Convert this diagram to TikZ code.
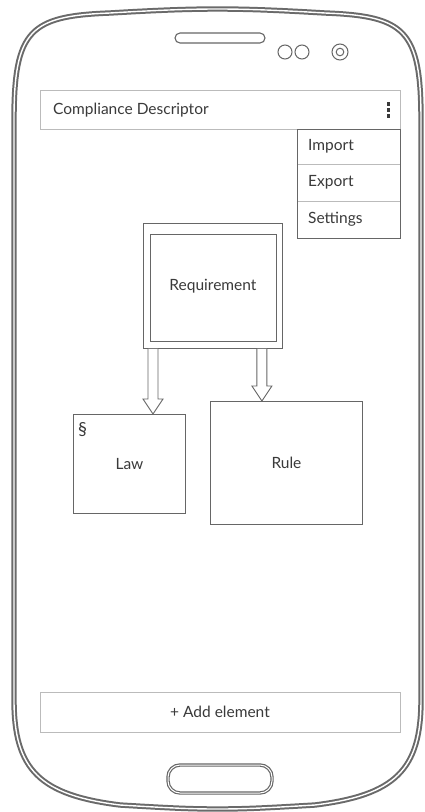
\documentclass[tikz,border=0pt]{standalone}
\usepackage{fontspec}
\setmainfont{Lato}
\usetikzlibrary{calc}
\definecolor{ink}{HTML}{3A3A3A}
\definecolor{frame}{HTML}{6A6A6A}
\definecolor{barline}{HTML}{BBBBBB}
\definecolor{boxline}{HTML}{666666}
\tikzset{
  shell/.style={draw=frame, line width=2pt, double=white, double distance=1.4pt},
  bar/.style={draw=barline, line width=0.8pt},
  box/.style={draw=boxline, line width=0.9pt},
  label/.style={text=ink, font=\fontsize{15.5}{17}\selectfont, inner sep=0pt},
  hollow/.style={draw=boxline, line width=0.9pt, fill=white, line join=miter},
}
% hollow block arrow from #1 (start of shaft) down to #2 (tip)
\newcommand\blockarrow[2]{%
  \draw[hollow] let \p1=#1, \p2=#2 in
    (\x1-5,\y1) -- (\x1-5,\y2+15) -- (\x1-10,\y2+15) -- (\x1,\y2)
    -- (\x1+10,\y2+15) -- (\x1+5,\y2+15) -- (\x1+5,\y1);}
\begin{document}
\begin{tikzpicture}[x=1pt,y=-1pt]
\useasboundingbox (0,0) rectangle (424,812);
\fill[white] (0,0) rectangle (424,812);

% phone body
\draw[shell]
  (14,700) -- (14,120)
  .. controls (14,30) and (30,16) .. (110,13)
  .. controls (160,10) and (190,9) .. (217.5,9)
  .. controls (245,9) and (275,10) .. (325,13)
  .. controls (405,16) and (421,30) .. (421,120)
  -- (421,700)
  .. controls (421,770) and (395,795) .. (315,805)
  .. controls (265,808) and (245,809) .. (217.5,809)
  .. controls (190,809) and (170,808) .. (120,805)
  .. controls (40,795) and (14,770) .. (14,700) -- cycle;

% speaker, sensors, camera
\draw[draw=boxline, line width=1.1pt, rounded corners=5pt] (175,33) rectangle (265,43);
\draw[boxline, line width=1pt] (285,52) circle (7) (302,52) circle (7);
\draw[boxline, line width=1pt] (340,52) circle (8) (340,52) circle (3.8);

% home button
\draw[draw=boxline, line width=1.2pt, double=white, double distance=1pt, rounded corners=12pt]
  (168,765) rectangle (272,793);

% title bar
\draw[bar] (40,90) rectangle (400,129);
\node[label, anchor=west] (title) at (53,110) {Compliance Descriptor};
\foreach \yy in {104,110,116} \fill[ink] (387,\yy-1.6) rectangle (389.5,\yy+1.6);

% overflow menu
\draw[bar] (297,164) -- (400,164) (297,201) -- (400,201);
\draw[box] (297,129) rectangle (400,238);
\node[label, anchor=west] (imp) at (308,146) {Import};
\node[label, anchor=west] (exp) at (308,182) {Export};
\node[label, anchor=west] (set) at (308,219) {Settings};

% requirement (double frame)
\node[box, minimum width=139, minimum height=125, anchor=north west] (req) at (143,223) {};
\draw[box] ($(req.north west)+(7,11)$) rectangle ($(req.south east)+(-6,-7)$);
\node[label] at (req.center) {Requirement};

% law and rule
\node[box, minimum width=112, minimum height=99, anchor=north west] (law) at (73,414) {};
\node[label] at (law.center) {Law};
\node[label, font=\fontsize{18}{20}\selectfont, anchor=north west] at ($(law.north west)+(5,8)$) {\S};
\node[box, minimum width=152, minimum height=123, anchor=north west] (rule) at (210,401) {};
\node[label] at (rule.center) {Rule};

% containment arrows
\coordinate (a1) at ($(req.south west)+(10,0)$);
\coordinate (a2) at ($(req.south east)+(-21,0)$);
\blockarrow{(a1)}{(a1 |- law.north)}
\blockarrow{(a2)}{(a2 |- rule.north)}

% bottom action bar
\draw[bar] (40,692) rectangle (400,732);
\node[label] (add) at (220,712) {+ Add element};
\end{tikzpicture}
\end{document}
